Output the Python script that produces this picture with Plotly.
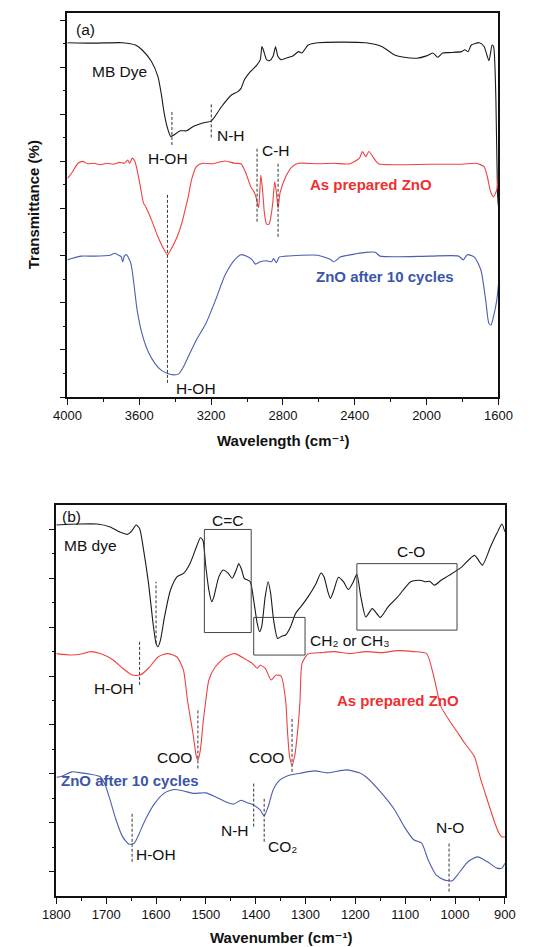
import plotly.graph_objects as go

# ---------------- Panel (a) data ----------------
a_black_x = [4000, 3852, 3692, 3621, 3585, 3532, 3496, 3478, 3461, 3443, 3425, 3407, 3371, 3336, 3300,
             3229, 3202, 3185, 3140, 3087, 3051, 3033, 3015, 2980, 2944, 2926, 2917, 2909, 2891, 2873,
             2855, 2841, 2828, 2811, 2784, 2748, 2713, 2695, 2659, 2606, 2339, 2250, 2178, 2125, 2054,
             2000, 1965, 1938, 1911, 1876, 1805, 1787, 1769, 1751, 1707, 1680, 1653, 1635, 1627, 1614,
             1605, 1600]
a_black_y = [7.52, 7.51, 7.52, 7.47, 7.37, 7.12, 6.80, 6.45, 6.02, 5.71, 5.53, 5.56, 5.65, 5.65, 5.74,
             5.83, 5.85, 5.92, 6.17, 6.41, 6.48, 6.55, 6.73, 6.91, 7.05, 7.16, 7.44, 7.37, 7.16, 7.14,
             7.23, 7.43, 7.23, 7.16, 7.19, 7.23, 7.33, 7.30, 7.47, 7.52, 7.52, 7.44, 7.26, 7.21, 7.19,
             7.24, 7.30, 7.21, 7.30, 7.31, 7.33, 7.37, 7.33, 7.47, 7.52, 7.44, 7.14, 7.47, 7.44, 6.31,
             4.30, 4.05]

a_red_x = [4000, 3977, 3941, 3915, 3888, 3852, 3817, 3781, 3745, 3710, 3683, 3665, 3653, 3639, 3624,
           3612, 3594, 3576, 3567, 3532, 3496, 3461, 3443, 3425, 3389, 3363, 3336, 3327, 3309, 3282,
           3247, 3193, 3122, 3069, 3033, 3006, 2980, 2962, 2948, 2941, 2935, 2923, 2912, 2903, 2891,
           2877, 2864, 2855, 2846, 2837, 2827, 2816, 2784, 2748, 2713, 2606, 2517, 2428, 2374, 2357,
           2339, 2321, 2294, 2268, 2161, 1983, 1805, 1724, 1680, 1662, 1644, 1627, 1609, 1600]
a_red_y = [4.64, 4.75, 4.96, 5.00, 4.95, 4.96, 4.93, 4.96, 4.94, 4.98, 4.96, 5.03, 4.96, 5.07, 5.00,
           4.82, 4.47, 4.11, 4.06, 3.76, 3.40, 3.12, 3.02, 3.12, 3.40, 3.69, 4.11, 4.25, 4.61, 4.89,
           4.96, 4.95, 5.01, 4.96, 4.95, 4.75, 4.47, 4.36, 4.22, 4.08, 4.02, 4.71, 4.33, 3.90, 3.67,
           3.67, 3.90, 4.18, 4.57, 4.36, 4.01, 4.33, 4.68, 4.89, 4.96, 4.95, 4.96, 4.95, 5.07, 5.21,
           5.10, 5.21, 5.07, 4.95, 4.93, 4.94, 4.94, 4.96, 4.89, 4.68, 4.36, 4.25, 4.40, 4.75]

a_blue_x = [4000, 3977, 3923, 3852, 3763, 3737, 3719, 3701, 3692, 3683, 3671, 3647, 3630, 3612, 3585,
            3550, 3514, 3478, 3443, 3407, 3380, 3354, 3318, 3282, 3229, 3175, 3122, 3069, 3033, 2998,
            2971, 2953, 2926, 2891, 2864, 2852, 2837, 2820, 2784, 2606, 2535, 2517, 2500, 2482, 2392,
            2339, 2286, 2259, 1983, 1822, 1796, 1773, 1734, 1698, 1671, 1653, 1641, 1627, 1609, 1600]
a_blue_y = [2.91, 2.94, 2.99, 2.99, 3.01, 3.05, 3.02, 2.98, 2.87, 2.99, 3.02, 2.84, 2.41, 1.85, 1.35,
            0.96, 0.72, 0.57, 0.50, 0.47, 0.49, 0.64, 0.93, 1.21, 1.56, 2.06, 2.59, 2.91, 3.02, 2.98,
            2.91, 2.82, 2.87, 2.89, 2.87, 2.94, 2.85, 2.97, 2.99, 3.01, 2.92, 2.87, 2.91, 2.97, 3.04,
            3.07, 3.07, 2.99, 2.99, 2.99, 2.91, 3.02, 2.97, 2.70, 2.06, 1.56, 1.53, 1.71, 2.06, 2.38]

a_xticks = [4000, 3600, 3200, 2800, 2400, 2000, 1600]
a_xticklabels = ["4000", "3600", "3200", "2800", "2400", "2000", "1600"]

# peak marker lines for panel (a): wavenumber, y from, y to
a_marks_x = [3418, 3199, 2944, 2827, 3443]
a_marks_y0 = [5.35, 5.51, 3.72, 3.40, 0.30]
a_marks_y1 = [6.06, 6.22, 5.28, 4.96, 4.29]

a_labels = ["(a)", "MB Dye", "H-OH", "N-H", "C-H", "As prepared ZnO", "ZnO after 10 cycles", "H-OH"]
a_labels_x = [3897, 3710, 3439, 3090, 2837, 2312, 2232, 3286]
a_labels_y = [7.79, 6.91, 5.07, 5.54, 5.23, 4.52, 2.55, 0.19]

# ---------------- Panel (b) data ----------------
b_black_x = [1800, 1757, 1718, 1692, 1673, 1657, 1648, 1640, 1633, 1625, 1615, 1606, 1600, 1596, 1591,
             1583, 1571, 1558, 1545, 1532, 1519, 1511, 1506, 1500, 1494, 1488, 1484, 1474, 1465, 1455,
             1447, 1439, 1434, 1428, 1423, 1411, 1404, 1397, 1392, 1388, 1381, 1375, 1370, 1364, 1356,
             1347, 1340, 1330, 1320, 1307, 1295, 1279, 1269, 1263, 1255, 1250, 1243, 1234, 1224, 1214,
             1205, 1197, 1189, 1179, 1166, 1150, 1134, 1115, 1089, 1070, 1060, 1051, 1041, 1028, 1012,
             987, 961, 945, 929, 916, 906, 900]
b_black_y = [7.59, 7.61, 7.61, 7.55, 7.45, 7.40, 7.48, 7.59, 7.52, 7.08, 6.39, 5.58, 5.17, 5.10, 5.24,
             5.71, 6.26, 6.53, 6.60, 6.80, 7.14, 7.33, 7.28, 6.73, 6.26, 6.02, 6.12, 6.53, 6.67, 6.60,
             6.50, 6.67, 6.80, 6.67, 6.50, 6.43, 6.05, 5.58, 5.41, 5.51, 6.12, 6.43, 6.19, 5.64, 5.27,
             5.32, 5.34, 5.51, 5.78, 5.95, 6.12, 6.39, 6.61, 6.53, 6.22, 6.09, 6.26, 6.52, 6.43, 6.27,
             6.41, 6.58, 6.12, 5.71, 5.88, 5.70, 5.92, 6.12, 6.43, 6.46, 6.43, 6.44, 6.36, 6.46, 6.56,
             6.73, 6.97, 6.77, 7.14, 7.42, 7.61, 7.45]

b_red_x = [1800, 1770, 1750, 1731, 1712, 1686, 1667, 1648, 1632, 1615, 1596, 1577, 1558, 1545, 1537,
           1532, 1526, 1519, 1516, 1511, 1505, 1500, 1494, 1481, 1461, 1442, 1423, 1407, 1397, 1391,
           1381, 1369, 1359, 1349, 1340, 1336, 1332, 1327, 1322, 1315, 1311, 1307, 1295, 1269, 1243,
           1211, 1179, 1147, 1115, 1083, 1057, 1044, 1032, 1028, 1012, 996, 980, 961, 948, 935,
           922, 913, 906, 900]
b_red_y = [4.96, 4.93, 4.95, 5.00, 4.96, 4.83, 4.66, 4.52, 4.52, 4.66, 4.89, 4.96, 4.89, 4.62, 4.01,
           3.70, 3.33, 2.85, 2.78, 2.99, 3.60, 4.01, 4.42, 4.69, 4.89, 4.96, 4.86, 4.76, 4.66, 4.72,
           4.66, 4.42, 4.52, 4.50, 4.01, 3.33, 2.85, 2.68, 2.85, 3.46, 4.01, 4.76, 4.95, 4.98, 5.00,
           4.96, 5.00, 4.98, 5.02, 5.00, 4.96, 4.55, 4.01, 3.87, 3.60, 3.36, 3.12, 2.85, 2.37, 1.96,
           1.55, 1.31, 1.21, 1.21]

b_blue_x = [1800, 1789, 1769, 1750, 1731, 1712, 1702, 1692, 1680, 1667, 1654, 1644, 1635, 1622, 1603,
            1583, 1564, 1545, 1526, 1500, 1481, 1461, 1445, 1429, 1417, 1404, 1391, 1383, 1375, 1365,
            1352, 1333, 1307, 1282, 1256, 1218, 1192, 1179, 1147, 1121, 1102, 1083, 1067, 1054, 1038,
            1022, 1006, 993, 974, 955, 935, 916, 906, 900]
b_blue_y = [2.43, 2.45, 2.54, 2.52, 2.49, 2.44, 2.27, 1.96, 1.55, 1.21, 1.06, 1.08, 1.25, 1.55, 1.89,
            2.11, 2.18, 2.15, 2.10, 2.11, 2.03, 1.93, 1.88, 1.96, 1.91, 1.86, 1.76, 1.64, 1.83, 2.17,
            2.37, 2.47, 2.52, 2.56, 2.52, 2.58, 2.52, 2.44, 2.10, 1.76, 1.42, 1.15, 1.08, 0.74, 0.43,
            0.33, 0.31, 0.46, 0.70, 0.80, 0.70, 0.57, 0.57, 0.67]

b_xticks = [1800, 1700, 1600, 1500, 1400, 1300, 1200, 1100, 1000, 900]
b_xticklabels = ["1800", "1700", "1600", "1500", "1400", "1300", "1200", "1100", "1000", "900"]

b_marks_x = [1600, 1633, 1516, 1327, 1648, 1404, 1383, 1012]
b_marks_y0 = [5.17, 4.32, 2.61, 2.54, 0.70, 1.42, 1.11, 0.09]
b_marks_y1 = [6.43, 5.20, 3.84, 3.67, 1.72, 2.34, 2.03, 1.11]

# boxes: x0, x1, y0, y1
b_boxes_x0 = [1503, 1404, 1197]
b_boxes_x1 = [1409, 1301, 996]
b_boxes_y0 = [5.39, 4.93, 5.44]
b_boxes_y1 = [7.50, 5.70, 6.80]

b_labels = ["(b)", "MB dye", "C=C", "CH\u2082 or CH\u2083", "C-O", "H-OH", "As prepared ZnO",
            "ZnO after 10 cycles", "COO", "COO", "N-H", "H-OH", "CO\u2082", "N-O"]
b_labels_x = [1769, 1731, 1456, 1211, 1089, 1685, 1115, 1652, 1563, 1378, 1442, 1601, 1346, 1011]
b_labels_y = [7.76, 7.18, 7.69, 5.22, 7.04, 4.25, 3.99, 2.36, 2.83, 2.83, 1.35, 0.84, 1.02, 1.40]

# ---------------- styling ----------------
BLACK = "#1a1a1a"
RED = "#f04040"
BLUE = "#4a5fb0"
LBL_RED = "#ee3030"
LBL_BLUE = "#3a56a8"
FONT = "Liberation Sans, Arial, DejaVu Sans, sans-serif"

REF_W = 544
W, H = 529, 947
def px_x(p):
    # horizontal layout positions are given in reference pixels and scaled to the figure width
    return p / REF_W
def px_y(p):
    return 1 - p / H

fig = go.Figure()
line_kw = dict(shape="spline", smoothing=0.6, width=1.1)
fig.add_trace(go.Scatter(x=a_black_x, y=a_black_y, mode="lines", line=dict(color=BLACK, **line_kw), xaxis="x", yaxis="y"))
fig.add_trace(go.Scatter(x=a_red_x, y=a_red_y, mode="lines", line=dict(color=RED, **line_kw), xaxis="x", yaxis="y"))
fig.add_trace(go.Scatter(x=a_blue_x, y=a_blue_y, mode="lines", line=dict(color=BLUE, **line_kw), xaxis="x", yaxis="y"))
fig.add_trace(go.Scatter(x=b_black_x, y=b_black_y, mode="lines", line=dict(color=BLACK, **line_kw), xaxis="x2", yaxis="y2"))
fig.add_trace(go.Scatter(x=b_red_x, y=b_red_y, mode="lines", line=dict(color=RED, **line_kw), xaxis="x2", yaxis="y2"))
fig.add_trace(go.Scatter(x=b_blue_x, y=b_blue_y, mode="lines", line=dict(color=BLUE, **line_kw), xaxis="x2", yaxis="y2"))

shapes = []
dash_line = dict(color="#333333", width=1, dash="3px,2px")
for x, y0, y1 in zip(a_marks_x, a_marks_y0, a_marks_y1):
    shapes.append(dict(type="line", xref="x", yref="y", x0=x, x1=x, y0=y0, y1=y1, line=dash_line))
for x, y0, y1 in zip(b_marks_x, b_marks_y0, b_marks_y1):
    shapes.append(dict(type="line", xref="x2", yref="y2", x0=x, x1=x, y0=y0, y1=y1, line=dash_line))
for x0, x1, y0, y1 in zip(b_boxes_x0, b_boxes_x1, b_boxes_y0, b_boxes_y1):
    shapes.append(dict(type="rect", xref="x2", yref="y2", x0=x0, x1=x1, y0=y0, y1=y1,
                       line=dict(color="#444444", width=1)))

annotations = []
def label_style(t):
    if t == "As prepared ZnO":
        return dict(color=LBL_RED, size=15, family=FONT), "<b>%s</b>" % t
    if t == "ZnO after 10 cycles":
        return dict(color=LBL_BLUE, size=15, family=FONT), "<b>%s</b>" % t
    return dict(color="#111111", size=15.5, family=FONT), t

for t, x, y in zip(a_labels, a_labels_x, a_labels_y):
    f, txt = label_style(t)
    annotations.append(dict(text=txt, x=x, y=y, xref="x", yref="y", showarrow=False, font=f,
                            xanchor="center", yanchor="middle"))
for t, x, y in zip(b_labels, b_labels_x, b_labels_y):
    f, txt = label_style(t)
    annotations.append(dict(text=txt, x=x, y=y, xref="x2", yref="y2", showarrow=False, font=f,
                            xanchor="center", yanchor="middle"))

# axis titles
annotations.append(dict(text="<b>Wavelength (cm\u207b\u00b9)</b>", x=px_x(292), y=px_y(440), xref="paper", yref="paper",
                        showarrow=False, font=dict(size=15, color="#111111", family=FONT), xanchor="center", yanchor="middle"))
annotations.append(dict(text="<b>Wavenumber (cm\u207b\u00b9)</b>", x=px_x(290), y=px_y(937), xref="paper", yref="paper",
                        showarrow=False, font=dict(size=15, color="#111111", family=FONT), xanchor="center", yanchor="middle"))
annotations.append(dict(text="<b>Transmittance (%)</b>", x=px_x(22), y=px_y(205), xref="paper", yref="paper", textangle=-90,
                        showarrow=False, font=dict(size=15, color="#111111", family=FONT), xanchor="center", yanchor="middle"))

axis_common = dict(showline=True, linecolor="#111111", linewidth=1.5, mirror=True, showgrid=False, zeroline=False,
                   ticks="outside", ticklen=6, tickwidth=1.2, tickcolor="#111111")
tick_font = dict(size=13, color="#111111", family=FONT)

a_yticks = [0, 1, 2, 3, 4, 5, 6, 7, 8]
a_yminor = [0.5, 1.5, 2.5, 3.5, 4.5, 5.5, 6.5, 7.5]
b_yticks = [0.5, 1.5, 2.5, 3.5, 4.5, 5.5, 6.5, 7.5]
b_yminor = [1, 2, 3, 4, 5, 6, 7]
a_xminor = [3800, 3400, 3000, 2600, 2200, 1800]
b_xminor = [1750, 1650, 1550, 1450, 1350, 1250, 1150, 1050, 950]

fig.update_layout(
    width=W, height=H, margin=dict(l=0, r=0, t=0, b=0),
    paper_bgcolor="white", plot_bgcolor="white", showlegend=False,
    xaxis=dict(domain=[px_x(58), px_x(526)], range=[4000, 1600], anchor="y",
               tickmode="array", tickvals=a_xticks, ticktext=a_xticklabels, tickfont=tick_font,
               minor=dict(tickmode="array", tickvals=a_xminor, ticks="outside", ticklen=3, tickwidth=1.2, tickcolor="#111111"),
               **axis_common),
    yaxis=dict(domain=[px_y(397), px_y(13)], range=[0, 8.15], anchor="x",
               tickmode="array", tickvals=a_yticks, showticklabels=False,
               minor=dict(tickmode="array", tickvals=a_yminor, ticks="outside", ticklen=3, tickwidth=1.2, tickcolor="#111111"),
               **axis_common),
    xaxis2=dict(domain=[px_x(46), px_x(533)], range=[1800, 900], anchor="y2",
                tickmode="array", tickvals=b_xticks, ticktext=b_xticklabels, tickfont=tick_font,
                minor=dict(tickmode="array", tickvals=b_xminor, ticks="outside", ticklen=3, tickwidth=1.2, tickcolor="#111111"),
                **axis_common),
    yaxis2=dict(domain=[px_y(896), px_y(505)], range=[0, 8], anchor="x2",
                tickmode="array", tickvals=b_yticks, showticklabels=False,
                minor=dict(tickmode="array", tickvals=b_yminor, ticks="outside", ticklen=3, tickwidth=1.2, tickcolor="#111111"),
                **axis_common),
    shapes=shapes, annotations=annotations,
)

fig.write_html("out.html")
